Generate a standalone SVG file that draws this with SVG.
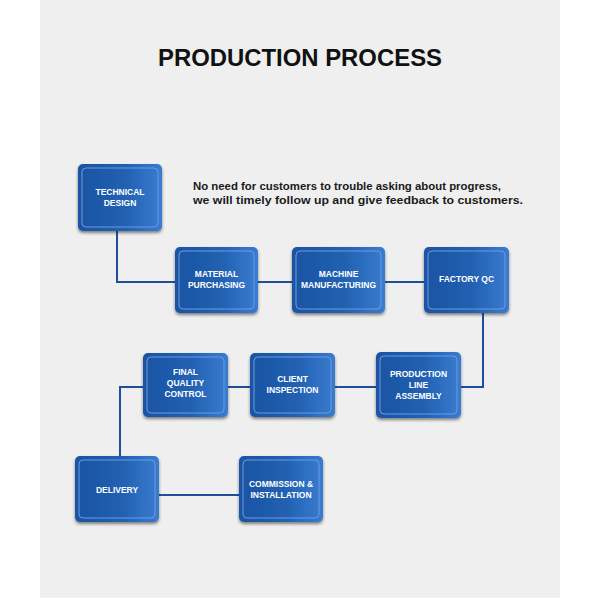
<svg xmlns="http://www.w3.org/2000/svg" width="600" height="600" viewBox="0 0 600 600">
<style>
.box{fill:url(#boxGrad);filter:url(#shadow)}
.inner{fill:none;stroke:#6b9be0;stroke-width:1}
.lbl{font-family:"Liberation Sans",Arial,sans-serif;font-weight:bold;font-size:8.5px;fill:#ffffff;text-anchor:middle}
.conn{fill:none;stroke:#1f4f9c;stroke-width:2}
.title{font-family:"Liberation Sans",Arial,sans-serif;font-weight:bold;font-size:24px;fill:#111111;text-anchor:middle}
.note{font-family:"Liberation Sans",Arial,sans-serif;font-weight:bold;font-size:11px;fill:#1a1a1a}
</style>
<defs>
<linearGradient id="boxGrad" x1="0" y1="0" x2="1" y2="0">
<stop offset="0" stop-color="#1b53a2"/>
<stop offset="0.55" stop-color="#2160b1"/>
<stop offset="1" stop-color="#3a7ccf"/>
</linearGradient>
<filter id="shadow" x="-20%" y="-20%" width="140%" height="150%">
<feDropShadow dx="0" dy="2" stdDeviation="1.5" flood-color="#222222" flood-opacity="0.55"/>
</filter>
</defs>
<rect x="0" y="0" width="600" height="600" fill="#ffffff"/>
<rect x="40" y="0" width="520" height="598" fill="#efefef"/>
<text class="title" x="300" y="66" textLength="284" lengthAdjust="spacingAndGlyphs">PRODUCTION PROCESS</text>
<text class="note" x="193" y="190" textLength="308" lengthAdjust="spacingAndGlyphs">No need for customers to trouble asking about progress,</text>
<text class="note" x="193" y="204" textLength="330" lengthAdjust="spacingAndGlyphs">we will timely follow up and give feedback to customers.</text>
<g id="connectors">
<path class="conn" d="M117 231 V282 H175"/>
<path class="conn" d="M258 282 H292"/>
<path class="conn" d="M385 282 H424"/>
<path class="conn" d="M483 312 V387 H461"/>
<path class="conn" d="M376 387 H335"/>
<path class="conn" d="M250 387 H228"/>
<path class="conn" d="M143 387 H120 V456"/>
<path class="conn" d="M159 495 H239"/>
</g>
<g id="technical-design">
<rect class="box" x="78" y="164" width="84" height="67" rx="5"/>
<rect class="inner" x="82" y="168" width="76" height="59" rx="4"/>
<text class="lbl" x="120" y="195">TECHNICAL</text>
<text class="lbl" x="120" y="206">DESIGN</text>
</g>
<g id="material-purchasing">
<rect class="box" x="175" y="247" width="83" height="66" rx="5"/>
<rect class="inner" x="179" y="251" width="75" height="58" rx="4"/>
<text class="lbl" x="216.5" y="277">MATERIAL</text>
<text class="lbl" x="216.5" y="288">PURCHASING</text>
</g>
<g id="machine-manufacturing">
<rect class="box" x="292" y="247" width="93" height="66" rx="5"/>
<rect class="inner" x="296" y="251" width="85" height="58" rx="4"/>
<text class="lbl" x="338.5" y="277">MACHINE</text>
<text class="lbl" x="338.5" y="288">MANUFACTURING</text>
</g>
<g id="factory-qc">
<rect class="box" x="424" y="247" width="85" height="66" rx="5"/>
<rect class="inner" x="428" y="251" width="77" height="58" rx="4"/>
<text class="lbl" x="466.5" y="282">FACTORY QC</text>
</g>
<g id="production-line-assembly">
<rect class="box" x="376" y="352" width="85" height="66" rx="5"/>
<rect class="inner" x="380" y="356" width="77" height="58" rx="4"/>
<text class="lbl" x="418.5" y="377">PRODUCTION</text>
<text class="lbl" x="418.5" y="388">LINE</text>
<text class="lbl" x="418.5" y="399">ASSEMBLY</text>
</g>
<g id="client-inspection">
<rect class="box" x="250" y="353" width="85" height="64" rx="5"/>
<rect class="inner" x="254" y="357" width="77" height="56" rx="4"/>
<text class="lbl" x="292.5" y="382">CLIENT</text>
<text class="lbl" x="292.5" y="393">INSPECTION</text>
</g>
<g id="final-quality-control">
<rect class="box" x="143" y="353" width="85" height="64" rx="5"/>
<rect class="inner" x="147" y="357" width="77" height="56" rx="4"/>
<text class="lbl" x="185.5" y="375">FINAL</text>
<text class="lbl" x="185.5" y="386">QUALITY</text>
<text class="lbl" x="185.5" y="397">CONTROL</text>
</g>
<g id="delivery">
<rect class="box" x="75" y="456" width="84" height="66" rx="5"/>
<rect class="inner" x="79" y="460" width="76" height="58" rx="4"/>
<text class="lbl" x="117" y="493">DELIVERY</text>
</g>
<g id="commission-installation">
<rect class="box" x="239" y="456" width="84" height="66" rx="5"/>
<rect class="inner" x="243" y="460" width="76" height="58" rx="4"/>
<text class="lbl" x="281" y="487">COMMISSION &amp;</text>
<text class="lbl" x="281" y="498">INSTALLATION</text>
</g>
</svg>
